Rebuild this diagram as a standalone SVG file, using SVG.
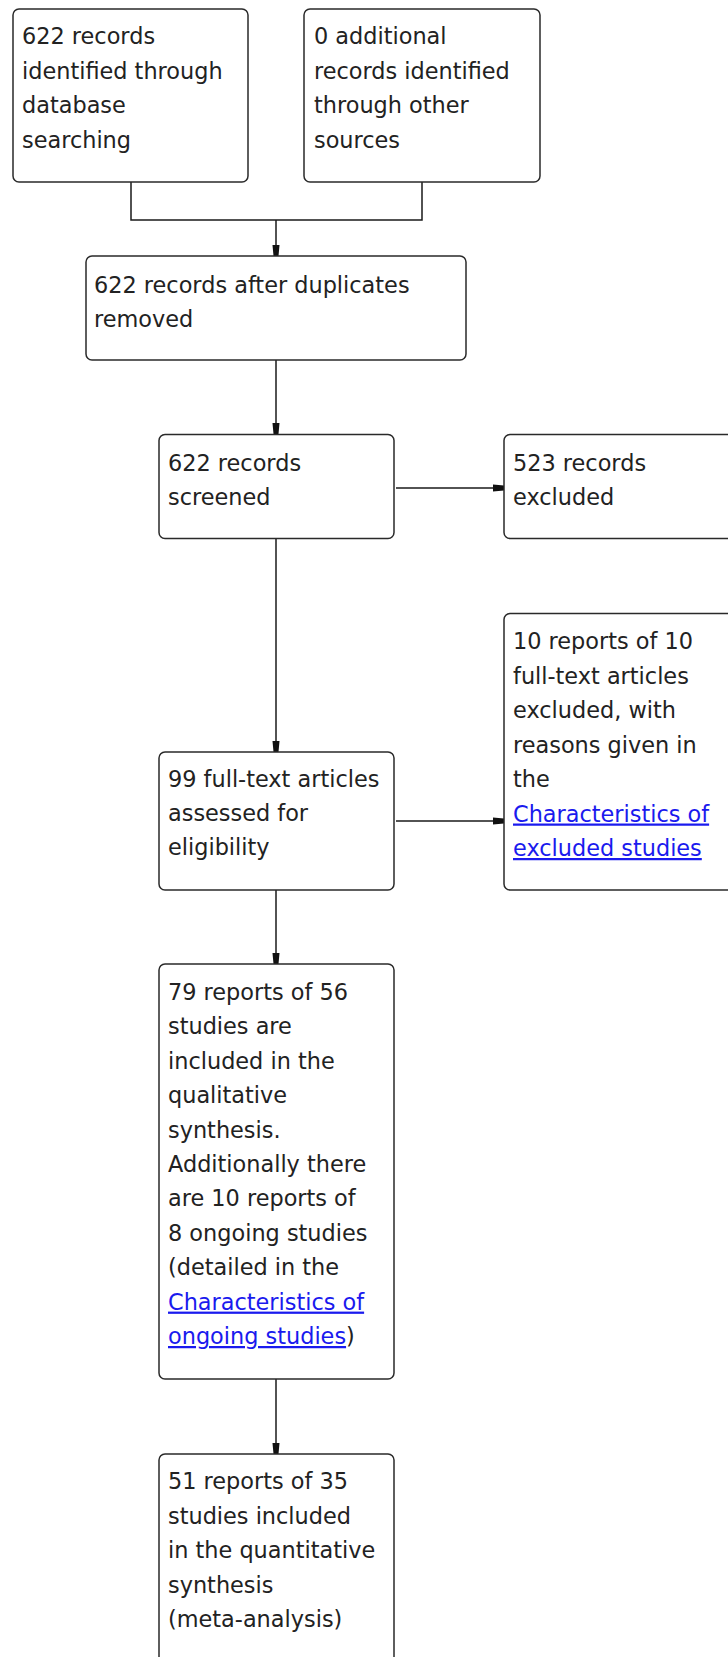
<svg xmlns="http://www.w3.org/2000/svg" width="728" height="1657" viewBox="0 0 728 1657">
<style>
.box{fill:#ffffff;stroke:#2a2a2a;stroke-width:1.5}
.t{font-family:"DejaVu Sans",Verdana,sans-serif;font-size:22.4px;fill:#222222}
.lk{fill:#1a1aee;text-decoration:underline}
.c{fill:none;stroke:#1a1a1a;stroke-width:1.5}
</style>
<defs>
<marker id="ah" markerUnits="userSpaceOnUse" markerWidth="12" markerHeight="10" viewBox="0 -5 12 10" refX="11" refY="0" orient="auto">
<path d="M0,-3.5 L11,-2.5 L11,2.5 L0,3.5 Z" fill="#111"/>
</marker>
</defs>
<rect width="728" height="1657" fill="#ffffff"/>
<g id="connectors">
<path class="c" d="M131,182 V220 H422 V182"/>
<path class="c" d="M276,220 V256" marker-end="url(#ah)"/>
<path class="c" d="M276,360 V434" marker-end="url(#ah)"/>
<path class="c" d="M396,488 H504" marker-end="url(#ah)"/>
<path class="c" d="M276,539 V752" marker-end="url(#ah)"/>
<path class="c" d="M396,821 H504" marker-end="url(#ah)"/>
<path class="c" d="M276,890 V964" marker-end="url(#ah)"/>
<path class="c" d="M276,1379 V1454" marker-end="url(#ah)"/>
</g>
<g id="n1">
<rect class="box" x="13" y="9" width="235" height="173" rx="6"/>
<text class="t" x="22" y="44">622 records</text>
<text class="t" x="22" y="78.6">identified through</text>
<text class="t" x="22" y="113.2">database</text>
<text class="t" x="22" y="147.8">searching</text>
</g>
<g id="n2">
<rect class="box" x="304" y="9" width="236" height="173" rx="6"/>
<text class="t" x="314" y="44">0 additional</text>
<text class="t" x="314" y="78.6">records identified</text>
<text class="t" x="314" y="113.2">through other</text>
<text class="t" x="314" y="147.8">sources</text>
</g>
<g id="n3">
<rect class="box" x="86" y="256" width="380" height="104" rx="6"/>
<text class="t" x="94" y="292.7">622 records after duplicates</text>
<text class="t" x="94" y="326.5">removed</text>
</g>
<g id="n4">
<rect class="box" x="159" y="434.5" width="235" height="104" rx="6"/>
<text class="t" x="168" y="470.7">622 records</text>
<text class="t" x="168" y="505">screened</text>
</g>
<g id="n5">
<rect class="box" x="504" y="434.5" width="236" height="104" rx="6"/>
<text class="t" x="513" y="470.7">523 records</text>
<text class="t" x="513" y="505">excluded</text>
</g>
<g id="n6">
<rect class="box" x="159" y="752" width="235" height="138" rx="6"/>
<text class="t" x="168" y="786.7">99 full-text articles</text>
<text class="t" x="168" y="821">assessed for</text>
<text class="t" x="168" y="855.4">eligibility</text>
</g>
<g id="n7">
<rect class="box" x="504" y="613.5" width="236" height="276.5" rx="6"/>
<text class="t" x="513" y="649">10 reports of 10</text>
<text class="t" x="513" y="683.5">full-text articles</text>
<text class="t" x="513" y="718">excluded, with</text>
<text class="t" x="513" y="752.5">reasons given in</text>
<text class="t" x="513" y="787">the</text>
<text class="t lk" x="513" y="821.5">Characteristics of</text>
<text class="t lk" x="513" y="856">excluded studies</text>
</g>
<g id="n8">
<rect class="box" x="159" y="964" width="235" height="415" rx="6"/>
<text class="t" x="168" y="1000">79 reports of 56</text>
<text class="t" x="168" y="1034.4">studies are</text>
<text class="t" x="168" y="1068.8">included in the</text>
<text class="t" x="168" y="1103.2">qualitative</text>
<text class="t" x="168" y="1137.6">synthesis.</text>
<text class="t" x="168" y="1172">Additionally there</text>
<text class="t" x="168" y="1206.4">are 10 reports of</text>
<text class="t" x="168" y="1240.8">8 ongoing studies</text>
<text class="t" x="168" y="1275.2">(detailed in the</text>
<text class="t lk" x="168" y="1309.6">Characteristics of</text>
<text class="t" x="168" y="1344"><tspan class="lk">ongoing studies</tspan>)</text>
</g>
<g id="n9">
<rect class="box" x="159" y="1454" width="235" height="230" rx="6"/>
<text class="t" x="168" y="1489.3">51 reports of 35</text>
<text class="t" x="168" y="1523.7">studies included</text>
<text class="t" x="168" y="1558.1">in the quantitative</text>
<text class="t" x="168" y="1592.5">synthesis</text>
<text class="t" x="168" y="1627">(meta-analysis)</text>
</g>
</svg>
